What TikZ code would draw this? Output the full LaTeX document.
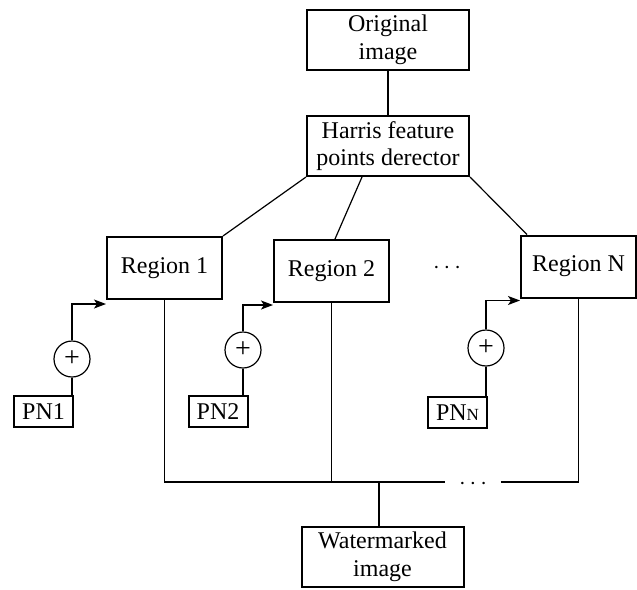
\documentclass[tikz,border=0pt]{standalone}
\usepackage{fontspec}
\setmainfont{Liberation Serif}
\usetikzlibrary{arrows.meta, positioning}

\begin{document}
\begin{tikzpicture}[
    node distance=53pt and 0pt, % first value is vertical, second is horizontal
    on grid,
    box/.style={rectangle, draw, line width=1pt, minimum width=57.5pt, minimum height=31pt, inner sep=2pt, align=center, font=\fontsize{12}{13.8}\selectfont},
    widebox/.style={box, minimum width=81pt, minimum height=30pt},
    keybox/.style={box, minimum width=29.5pt, minimum height=15.5pt},
    adder/.style={circle, draw, line width=0.6pt, minimum size=18pt, inner sep=0pt, font=\fontsize{14}{15}\selectfont},
    dots/.style={inner sep=0pt, minimum width=27.5pt, font=\fontsize{12}{13.8}\selectfont},
    link/.style={line width=0.6pt},
    arrow/.style={-{Stealth[length=6pt, width=4.5pt, inset=1.5pt]}, line width=0.6pt}
]
    \useasboundingbox (0,0) rectangle (318.5pt,-294.5pt);

    % Top: source image and detector
    \node[widebox] (orig) at (194pt,-20pt) {Original\\image};
    \node[widebox, below=of orig] (harris) {Harris feature\\points derector};

    % Regions
    \node[box, below left=61pt and 111.75pt of harris] (reg1) {Region 1};
    \node[box, below left=62.5pt and 28.25pt of harris] (reg2) {Region 2};
    \node[box, below right=60.25pt and 95.25pt of harris] (regN) {Region N};
    \node[dots, right=57.75pt of reg2, yshift=1.3pt] (regdots) {$\cdots$};

    % Adders and pseudo-noise keys
    \node[adder, below left=45.5pt and 46.25pt of reg1] (add1) {+};
    \node[adder, below left=39.5pt and 44.25pt of reg2] (add2) {+};
    \node[adder, below left=40.75pt and 46.25pt of regN] (addN) {+};
    \node[keybox, below left=26.25pt and 14.25pt of add1] (pn1) {PN1};
    \node[keybox, below left=30.75pt and 12.5pt of add2] (pn2) {PN2};
    \node[keybox, below left=32.25pt and 14.25pt of addN] (pnN) {PN{\fontsize{8.5}{10}\selectfont N}};

    % Output
    \node[widebox, below left=205.5pt and 2.75pt of harris] (water) {Watermarked\\image};
    \coordinate (join) at ([xshift=-1.75pt, yshift=22pt]water.north);
    \node[dots] (busdots) at ([xshift=47pt, yshift=-1.2pt]join) {$\cdots$};

    % Detector fan-out
    \draw[link] (orig) -- (harris);
    \draw[link] (harris.south west) -- (reg1.north east);
    \draw[link] ([xshift=-13pt]harris.south) -- ([xshift=1.75pt]reg2.north);
    \draw[link] (harris.south east) -- ([xshift=3.5pt]regN.north west);

    % Keys into regions
    \draw[link] (add1.south) -- (add1 |- pn1.north);
    \draw[link] (add2.south) -- (add2 |- pn2.north);
    \draw[link] (addN.south) -- (addN |- pnN.north);
    \draw[arrow] (add1.north) |- ([yshift=-2pt]reg1.south west);
    \draw[arrow] (add2.north) |- ([yshift=-1pt]reg2.south west);
    \draw[arrow] (addN.north) |- ([yshift=-1pt]regN.south west);

    % Collecting bus
    \draw[link] (reg1.south) |- (busdots.west |- join);
    \draw[link] (reg2.south) -- (reg2.south |- join);
    \draw[link] (busdots.east |- join) -| (regN.south);
    \draw[link] (join) -- (join |- water.north);
\end{tikzpicture}
\end{document}
